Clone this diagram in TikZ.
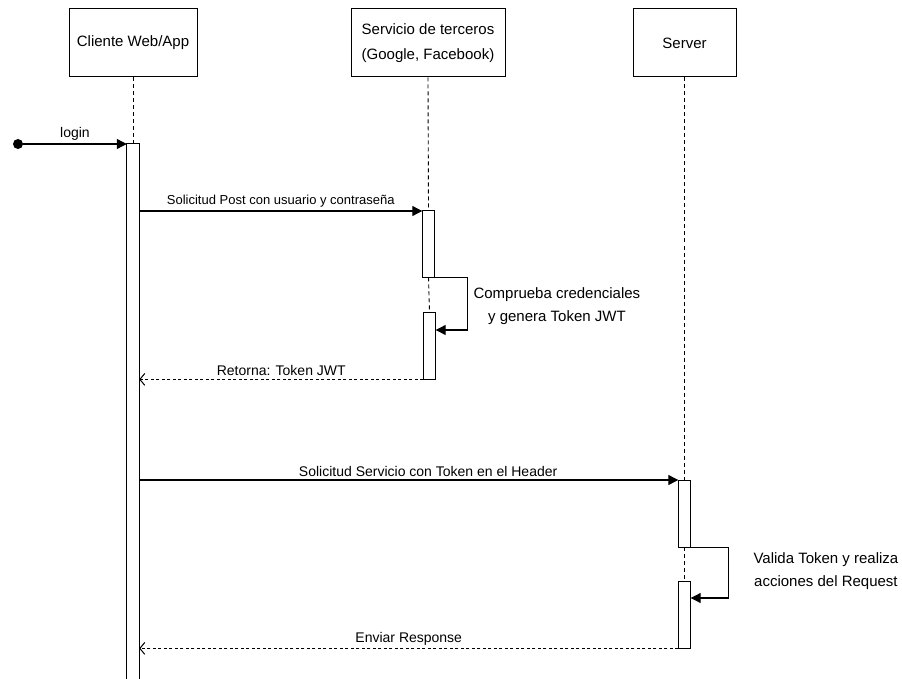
\documentclass[tikz,border=0pt]{standalone}
\usepackage{fontspec}
\setmainfont{Liberation Sans}
\usetikzlibrary{arrows.meta}
\tikzset{
  actor/.style={draw,line width=1pt,minimum height=68pt,align=center,
    font=\fontsize{15}{25}\selectfont},
  bar/.style={minimum width=12pt,anchor=north,inner sep=0pt},
  life/.style={line width=0.9pt,dash pattern=on 4pt off 3pt},
  msg/.style={line width=1.1pt,-{Triangle[length=10pt,width=10pt]}},
  ret/.style={line width=1pt,dash pattern=on 3pt off 2.5pt,-{Straight Barb[length=5pt,width=12pt]}},
  lbl/.style={font=\fontsize{14}{17}\selectfont,inner sep=3pt},
  note/.style={font=\fontsize{15}{23}\selectfont,align=center,anchor=west}
}
\begin{document}
\begin{tikzpicture}[x=1pt,y=-1pt]
  \useasboundingbox (0,0) rectangle (902,679);
  \node[actor,minimum width=128pt] (cli) at (133,43) {Cliente Web/App};
  \node[actor,minimum width=154pt] (ext) at (428,43) {Servicio de terceros\\(Google, Facebook)};
  \node[actor,minimum width=103pt] (srv) at (684.5,43) {Server};
  \node[bar,minimum height=545pt] (a1) at (133,144) {};
  \node[bar,minimum height=66pt] (b1) at (428.5,211) {};
  \node[bar,minimum height=67pt] (b2) at (429.5,312) {};
  \node[bar,minimum height=67pt] (c1) at (684.5,480) {};
  \node[bar,minimum height=67pt] (c2) at (684.5,581) {};
  \foreach \u/\v in {cli/a1,ext/b1,b1/b2,srv/c1,c1/c2}
    \draw[life] (\u.south) -- (\v.north);
  \foreach \p in {a1,b1,b2,c1,c2}
    \draw[line width=1pt,fill=white] (\p.north west) rectangle (\p.south east);
  \coordinate (b2in) at ([yshift=-18pt]b2.north east);
  \coordinate (c2in) at ([yshift=-17pt]c2.north east);
  \node[circle,fill,inner sep=0pt,minimum size=10pt] (start) at (18,144) {};
  \draw[msg] (start) -- (a1.north west) node[lbl,midway,above] {login};
  \draw[msg] (a1.east |- b1.north) -- (b1.north west)
    node[lbl,midway,above,font=\fontsize{13}{16}\selectfont] {Solicitud Post con usuario y contraseña};
  \draw[msg] (b1.south east) -- ++(33,0) |- (b2in);
  \node[note] (chk) at (470,306) {Comprueba credenciales\\y genera Token JWT};
  \draw[ret] (b2.south west) -- (a1.east |- b2.south) node[lbl,midway,above] {Retorna: Token JWT};
  \draw[msg] (a1.east |- c1.north) -- (c1.north west)
    node[lbl,pos=0.536,above] {Solicitud Servicio con Token en el Header};
  \draw[msg] (c1.south east) -- ++(38,0) |- (c2in);
  \node[note] (val) at (750,571) {Valida Token y realiza\\acciones del Request};
  \draw[ret] (c2.south west) -- (a1.east |- c2.south) node[lbl,midway,above] {Enviar Response};
\end{tikzpicture}
\end{document}
